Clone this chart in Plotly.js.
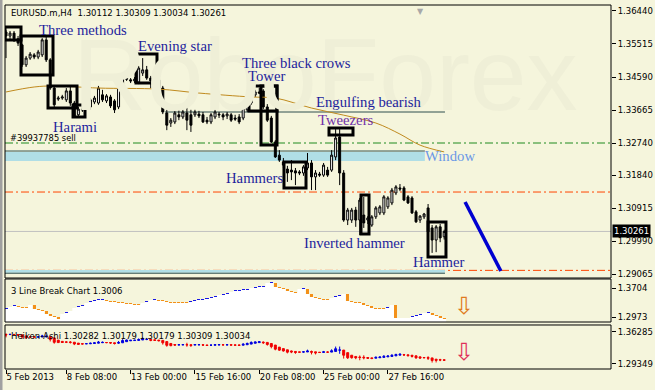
<!DOCTYPE html>
<html><head><meta charset="utf-8">
<script src="https://cdn.plot.ly/plotly-3.0.1.min.js"></script>
<style>html,body{margin:0;padding:0;background:#F5F5DC;} #chart{width:655px;height:390px;}</style>
</head><body><div id="chart"></div>
<script>
// ---------- DATA (EURUSD.m H4) ----------
const open = [1.3585,1.3574,1.3582,1.3566,1.3549,1.3493,1.3512,1.3521,1.3515,1.3521,
1.3563,1.3507,1.3428,1.3397,1.3400,1.3395,1.3420,1.3386,1.3353,1.3369,
1.3372,1.3375,1.3389,1.3386,1.3409,1.3392,1.3403,1.3392,1.3375,1.3423,
1.3456,1.3451,1.3448,1.3445,1.3470,1.3479,1.3456,1.3451,1.3451,1.3428,
1.3358,1.3330,1.3333,1.3353,1.3347,1.3358,1.3353,1.3353,1.3355,1.3353,
1.3338,1.3333,1.3347,1.3355,1.3353,1.3350,1.3353,1.3344,1.3347,1.3344,
1.3367,1.3386,1.3409,1.3417,1.3420,1.3375,1.3344,1.3277,1.3240,1.3221,
1.3201,1.3198,1.3196,1.3193,1.3190,1.3204,1.3218,1.3179,1.3187,1.3184,
1.3198,1.3198,1.3235,1.3291,1.3190,1.3058,1.3058,1.3086,1.3058,1.3072,
1.3058,1.3044,1.3067,1.3078,1.3078,1.3095,1.3106,1.3134,1.3148,1.3148,
1.3123,1.3120,1.3081,1.3058,1.3067,1.3092,1.3036,1.3002,1.3039,1.30112];
const high = [1.3591,1.3588,1.3588,1.3574,1.3552,1.3518,1.3529,1.3526,1.3535,1.3568,
1.3571,1.3512,1.3434,1.3406,1.3409,1.3428,1.3431,1.3392,1.3375,1.3378,
1.3383,1.3400,1.3406,1.3434,1.3423,1.3411,1.3409,1.3397,1.3434,1.3473,
1.3465,1.3456,1.3459,1.3490,1.3512,1.3490,1.3462,1.3456,1.3456,1.3434,
1.3367,1.3344,1.3364,1.3367,1.3367,1.3395,1.3367,1.3367,1.3364,1.3361,
1.3347,1.3358,1.3367,1.3361,1.3358,1.3361,1.3358,1.3353,1.3355,1.3386,
1.3400,1.3425,1.3423,1.3428,1.3425,1.3383,1.3350,1.3282,1.3254,1.3232,
1.3210,1.3226,1.3204,1.3198,1.3212,1.3246,1.3226,1.3198,1.3193,1.3218,
1.3207,1.3254,1.3313,1.3313,1.3198,1.3092,1.3092,1.3095,1.3120,1.3123,
1.3069,1.3072,1.3097,1.3100,1.3128,1.3125,1.3148,1.3156,1.3159,1.3153,
1.3128,1.3125,1.3086,1.3072,1.3078,1.3103,1.3044,1.3044,1.3047,1.30309];
const low = [1.3512,1.3563,1.3557,1.3546,1.3487,1.3487,1.3507,1.3509,1.3509,1.3515,
1.3501,1.3423,1.3375,1.3392,1.3395,1.3389,1.3378,1.3344,1.3347,1.3361,
1.3367,1.3367,1.3383,1.3381,1.3389,1.3386,1.3372,1.3358,1.3369,1.3417,
1.3448,1.3442,1.3442,1.3439,1.3462,1.3451,1.3428,1.3439,1.3425,1.3355,
1.3310,1.3319,1.3327,1.3338,1.3341,1.3310,1.3305,1.3347,1.3344,1.3330,
1.3327,1.3327,1.3341,1.3344,1.3338,1.3341,1.3333,1.3336,1.3327,1.3338,
1.3361,1.3381,1.3403,1.3411,1.3369,1.3333,1.3274,1.3232,1.3221,1.3204,
1.3165,1.3170,1.3156,1.3184,1.3182,1.3198,1.3142,1.3142,1.3179,1.3179,
1.3179,1.3193,1.3226,1.3156,1.3053,1.3044,1.3050,1.3039,1.3016,1.3036,
1.3047,1.3039,1.3061,1.3072,1.3072,1.3089,1.3100,1.3128,1.3139,1.3111,
1.3103,1.3075,1.3050,1.3050,1.3061,1.3022,1.2966,1.2968,1.2996,1.30034];
const close = [1.3574,1.3582,1.3566,1.3554,1.3493,1.3512,1.3523,1.3515,1.3529,1.3563,
1.3507,1.3428,1.3381,1.3400,1.3403,1.3420,1.3386,1.3350,1.3369,1.3367,
1.3381,1.3395,1.3400,1.3428,1.3395,1.3406,1.3378,1.3367,1.3428,1.3462,
1.3453,1.3448,1.3453,1.3484,1.3479,1.3456,1.3448,1.3445,1.3428,1.3361,
1.3324,1.3338,1.3358,1.3347,1.3361,1.3338,1.3324,1.3361,1.3350,1.3333,
1.3333,1.3353,1.3361,1.3353,1.3347,1.3355,1.3338,1.3341,1.3333,1.3381,
1.3389,1.3417,1.3417,1.3414,1.3375,1.3338,1.3277,1.3235,1.3226,1.3212,
1.3190,1.3193,1.3190,1.3190,1.3207,1.3218,1.3179,1.3190,1.3184,1.3212,
1.3184,1.3240,1.3288,1.3190,1.3058,1.3086,1.3086,1.3058,1.3114,1.3050,
1.3064,1.3067,1.3092,1.3095,1.3123,1.3120,1.3142,1.3151,1.3145,1.3114,
1.3106,1.3078,1.3053,1.3069,1.3075,1.3025,1.3002,1.3039,1.3008,1.30261];

// moving average, sampled at bar indices
const maBar = [0,7,12,23,38,48,61,67,76,84,92,98,103,109];
const maVal = [1.3417,1.3431,1.3434,1.3428,1.3425,1.3414,1.3403,1.3400,1.3372,1.3352,1.3330,1.3299,1.3268,1.3249];

// 3 Line Break levels per bar (null = no brick)
const lbStart = 1.3149;
const lbLevel = [1.3175,1.3225,1.3250,1.3225,1.3200,1.3200,1.3275,1.3175,1.3149,1.3124,
1.3049,1.2998,1.2973,1.2923,1.3049,1.3074,1.3124,1.3200,1.3225,1.3250,
1.3326,1.3351,1.3376,1.3402,1.3402,1.3376,1.3351,1.3351,1.3326,1.3326,
1.3301,1.3301,1.3275,1.3275,1.3326,1.3351,1.3402,1.3402,1.3376,1.3376,
1.3351,1.3326,1.3326,1.3326,1.3326,1.3326,1.3351,1.3376,1.3402,1.3402,
1.3427,1.3452,1.3477,1.3528,1.3528,1.3553,1.3603,1.3628,1.3628,1.3654,
1.3654,1.3704,1.3704,1.3729,1.3729,1.3830,1.3830,1.3729,1.3704,1.3679,
1.3628,1.3603,1.3578,1.3679,1.3679,1.3553,1.3477,1.3452,1.3427,1.3402,
1.3402,1.3452,1.3477,1.3502,1.3553,1.3376,1.3351,1.3326,1.3326,1.3275,
1.3250,1.3200,1.3175,1.3175,1.3175,1.3200,1.3275,1.2948,null,null,
null,1.2973,1.2998,1.3023,1.3074,1.3074,1.3023,1.2998,1.2948,1.2923];

// axis labels
const xTickBars = [0,15,31,47,63,79,95];
const xTickText = ['5 Feb 2013','8 Feb 08:00','13 Feb 00:00','15 Feb 16:00','20 Feb 08:00','25 Feb 00:00','27 Feb 16:00'];
const yTicks = [1.36440,1.35515,1.34590,1.33665,1.32740,1.31840,1.30915,1.29990,1.29065];
const y2Ticks = [1.3704,1.2973];
const y3Ticks = [1.36285,1.29349];
const lastPrice = 1.30261;

// ---------- chart objects (annotations drawn on the chart) ----------
const patternBoxes = [
  [-0.25,3.73,1.35627,1.35991],[3.73,11.69,1.34646,1.35739],[10.45,17.66,1.33721,1.34337],
  [16.67,19.65,1.33469,1.33805],[32.34,37.56,1.34422,1.35234],[60.45,67.41,1.33637,1.34337],
  [63.43,67.41,1.32684,1.34337],[69.15,74.63,1.31478,1.32207],[80.35,86.32,1.32964,1.33160],
  [88.31,90.30,1.30189,1.31282],[104.98,109.45,1.29544,1.30525]];
const NAVY='#1E1E9C';
const patternLabels = [
  ['Three methods',7.71,1.35907,NAVY],['Evening star',32.34,1.35459,NAVY],['Harami',11.19,1.33188,NAVY],
  ['Three black crows',58.2,1.34982,NAVY],['Tower',59.7,1.34618,NAVY],['Engulfing bearish',76.6,1.33889,NAVY],
  ['Tweezers',77.1,1.33384,'#7030A8'],['Window',103.7,1.32375,'#6A98E6'],['Hammers',54.2,1.31759,NAVY],
  ['Inverted hammer',73.6,1.29937,NAVY],['Hammer',100.7,1.29404,NAVY]];

const N = open.length;
const idx = open.map((_, i) => i);

// Heiken-Ashi from the candles
const haO=[],haC=[],haH=[],haL=[];
for (let i=0;i<N;i++){
  const c=(open[i]+high[i]+low[i]+close[i])/4;
  const o= i===0 ? (open[0]+close[0])/2 : (haO[i-1]+haC[i-1])/2;
  haO.push(o); haC.push(c); haH.push(Math.max(high[i],o,c)); haL.push(Math.min(low[i],o,c));
}

// 3 line break bricks
const minH = 0.0045;
const lbX=[],lbB=[],lbH=[],lbC=[],fillY=[];
let prev=lbStart, dir=1;
for (let i=0;i<N;i++){
  const v=lbLevel[i];
  if (v===null){ fillY.push(prev); continue; }
  if (v>prev) dir=1; else if (v<prev) dir=-1;
  let lo=Math.min(prev,v), hi=Math.max(prev,v);
  if (hi-lo<minH){ lo=v-minH/2; hi=v+minH/2; }
  lbX.push(i); lbB.push(lo); lbH.push(hi-lo); lbC.push(dir>0?'#1616E6':'#F39019');
  fillY.push(v); prev=v;
}

const traces = [
  {type:'candlestick', x:idx, open:open, high:high, low:low, close:close, xaxis:'x', yaxis:'y',
   increasing:{line:{color:'#000',width:1}, fillcolor:'#FFFFFF'},
   decreasing:{line:{color:'#000',width:1}, fillcolor:'#000000'},
   whiskerwidth:0, hoverinfo:'skip'},
  {type:'scatter', mode:'lines', x:maBar, y:maVal, xaxis:'x', yaxis:'y',
   line:{color:'#C08A1E', width:1, shape:'spline'}, hoverinfo:'skip'},
  {type:'scatter', mode:'lines', x:[-0.25].concat(idx,[109.5]), y:[fillY[0]].concat(fillY,[fillY[N-1]]),
   xaxis:'x', yaxis:'y2', fill:'tozeroy', fillcolor:'#FFFFFF', line:{width:0, shape:'hvh'}, hoverinfo:'skip'},
  {type:'bar', x:lbX, y:lbH, base:lbB, xaxis:'x', yaxis:'y2', width:0.75,
   marker:{color:lbC, line:{width:0}}, hoverinfo:'skip'},
  {type:'candlestick', x:idx, open:haO, high:haH, low:haL, close:haC, xaxis:'x', yaxis:'y3',
   increasing:{line:{color:'#0000E0',width:1}, fillcolor:'#0000E0'},
   decreasing:{line:{color:'#F00000',width:1}, fillcolor:'#F00000'},
   whiskerwidth:0, hoverinfo:'skip'}
];

const shapes = [];
const full=[-0.25,150.5];
const DD='8px,3px,2px,3px';
shapes.push({type:'rect',xref:'x',yref:'y',x0:-0.25,x1:104.2,y0:1.32235,y1:1.32487,fillcolor:'#B0DEE6',line:{width:0},layer:'below'});
shapes.push({type:'line',xref:'x',yref:'y',x0:-0.25,x1:104.2,y0:1.32515,y1:1.32515,line:{color:'#2F4F4F',width:1},layer:'below'});
shapes.push({type:'line',xref:'x',yref:'y',x0:full[0],x1:full[1],y0:1.32740,y1:1.32740,line:{color:'#1E8A1E',width:1,dash:DD},layer:'below'});
shapes.push({type:'line',xref:'x',yref:'y',x0:full[0],x1:full[1],y0:1.31366,y1:1.31366,line:{color:'#FF4500',width:1,dash:DD},layer:'below'});
shapes.push({type:'line',xref:'x',yref:'y',x0:full[0],x1:full[1],y0:lastPrice,y1:lastPrice,line:{color:'#C0C0C0',width:1},layer:'below'});
shapes.push({type:'line',xref:'x',yref:'y',x0:full[0],x1:full[1],y0:1.29170,y1:1.29170,line:{color:'#FF4500',width:1,dash:DD},layer:'below'});
shapes.push({type:'rect',xref:'x',yref:'y',x0:-0.25,x1:109.2,y0:1.29100,y1:1.29180,fillcolor:'#B0DEE6',line:{width:0},layer:'below'});
shapes.push({type:'line',xref:'x',yref:'y',x0:-0.25,x1:109.2,y0:1.29090,y1:1.29090,line:{color:'#2F4F4F',width:1},layer:'below'});
shapes.push({type:'line',xref:'x',yref:'y',x0:39.55,x1:109.2,y0:1.33609,y1:1.33609,line:{color:'#2F4F4F',width:1},layer:'below'});
patternBoxes.forEach(b=>shapes.push({type:'rect',xref:'x',yref:'y',x0:b[0],x1:b[1],y0:b[2],y1:b[3],line:{color:'#000',width:3},fillcolor:'rgba(0,0,0,0)'}));
shapes.push({type:'line',xref:'x',yref:'y',x0:114.2,x1:123.1,y0:1.31086,y1:1.29152,line:{color:'#0000D0',width:3.5}});
['y','y2','y3'].forEach(a=>shapes.push({type:'rect',xref:'paper',yref:a+' domain',x0:0,x1:1,y0:0,y1:1,line:{color:'#000',width:1},fillcolor:'rgba(0,0,0,0)'}));
shapes.push({type:'line',xref:'paper',yref:'paper',x0:-0.0066,x1:-0.0066,y0:-0.06,y1:1.02,line:{color:'#A0A0A0',width:3}});

const annotations = [];
annotations.push({xref:'x',yref:'y',x:79.4,y:1.34646,text:'RoboForex',showarrow:false,xanchor:'center',yanchor:'middle',
  font:{family:'Liberation Sans',size:102,color:'#EFEFD7'}});
patternLabels.forEach(l=>annotations.push({xref:'x',yref:'y',x:l[1],y:l[2],text:l[0],showarrow:false,xanchor:'left',yanchor:'middle',
  font:{family:'Liberation Serif',size:14.7,color:l[3]}}));
annotations.push({xref:'paper',yref:'paper',x:0.0066,y:0.978,text:'EURUSD.m,H4\u00a0\u00a01.30112 1.30309 1.30034 1.30261',showarrow:false,xanchor:'left',yanchor:'middle',font:{family:'DejaVu Sans',size:8.5,color:'#000'}});
annotations.push({xref:'x',yref:'y',x:0.6,y:1.32880,text:'#39937785 sell',showarrow:false,xanchor:'left',yanchor:'middle',font:{family:'DejaVu Sans',size:8.3,color:'#000'}});
annotations.push({xref:'paper',yref:'y2 domain',x:0.0066,y:0.73,text:'3 Line Break Chart 1.3006',showarrow:false,xanchor:'left',yanchor:'middle',font:{family:'DejaVu Sans',size:8.5,color:'#000'}});
annotations.push({xref:'paper',yref:'y3 domain',x:0.0066,y:0.75,text:'Heiken-Ashi 1.30282 1.30179 1.30179 1.30309 1.30034',showarrow:false,xanchor:'left',yanchor:'middle',font:{family:'DejaVu Sans',size:8.5,color:'#000'}});
annotations.push({xref:'x',yref:'y2',x:113.9,y:1.3238,text:'\u21e9',showarrow:false,xanchor:'center',yanchor:'middle',font:{family:'DejaVu Sans',size:24,color:'#E07A20'}});
annotations.push({xref:'x',yref:'y3',x:113.9,y:1.3195,text:'\u21e9',showarrow:false,xanchor:'center',yanchor:'middle',font:{family:'DejaVu Sans',size:24,color:'#E0305A'}});
annotations.push({xref:'paper',yref:'y',x:1,y:lastPrice,text:'1.30261',showarrow:false,xanchor:'left',yanchor:'middle',xshift:1,
  bgcolor:'#000',borderpad:1,font:{family:'DejaVu Sans',size:8.5,color:'#FFF'}});
annotations.push({xref:'paper',yref:'paper',x:0.686,y:1.0,text:'\u25bc',showarrow:false,xanchor:'center',yanchor:'top',font:{family:'DejaVu Sans',size:8,color:'#A8A8A8'}});

const yCommon = {side:'right',anchor:'x',ticks:'outside',ticklen:4,tickcolor:'#000',showgrid:false,zeroline:false,showline:false,fixedrange:true,
  tickfont:{family:'DejaVu Sans',size:8.5,color:'#000'}};
const layout = {
  width:655,height:390,margin:{l:5,r:44,t:5,b:21},
  paper_bgcolor:'#F5F5DC',plot_bgcolor:'#F5F5DC',showlegend:false,bargap:0,
  font:{family:'DejaVu Sans',size:8.5,color:'#000'},
  xaxis:{range:full,anchor:'y3',tickvals:xTickBars,ticktext:xTickText,ticks:'outside',ticklen:4,tickcolor:'#000',
    tickangle:0,ticklabelposition:'outside right',showgrid:false,zeroline:false,showline:false,fixedrange:true,
    rangeslider:{visible:false},tickfont:{family:'DejaVu Sans',size:8.5,color:'#000'}},
  yaxis:Object.assign({},yCommon,{domain:[0.25,1],range:[1.28956,1.36608],tickvals:yTicks,ticktext:yTicks.map(v=>v.toFixed(5))}),
  yaxis2:Object.assign({},yCommon,{domain:[0.12912,0.24725],range:[1.2847,1.3931],tickvals:y2Ticks,ticktext:y2Ticks.map(v=>v.toFixed(4))}),
  yaxis3:Object.assign({},yCommon,{domain:[0,0.12088],range:[1.28265,1.37802],tickvals:y3Ticks,ticktext:y3Ticks.map(v=>v.toFixed(5))}),
  shapes:shapes,annotations:annotations
};
Plotly.newPlot('chart',traces,layout,{staticPlot:true,displayModeBar:false});
</script></body></html>
